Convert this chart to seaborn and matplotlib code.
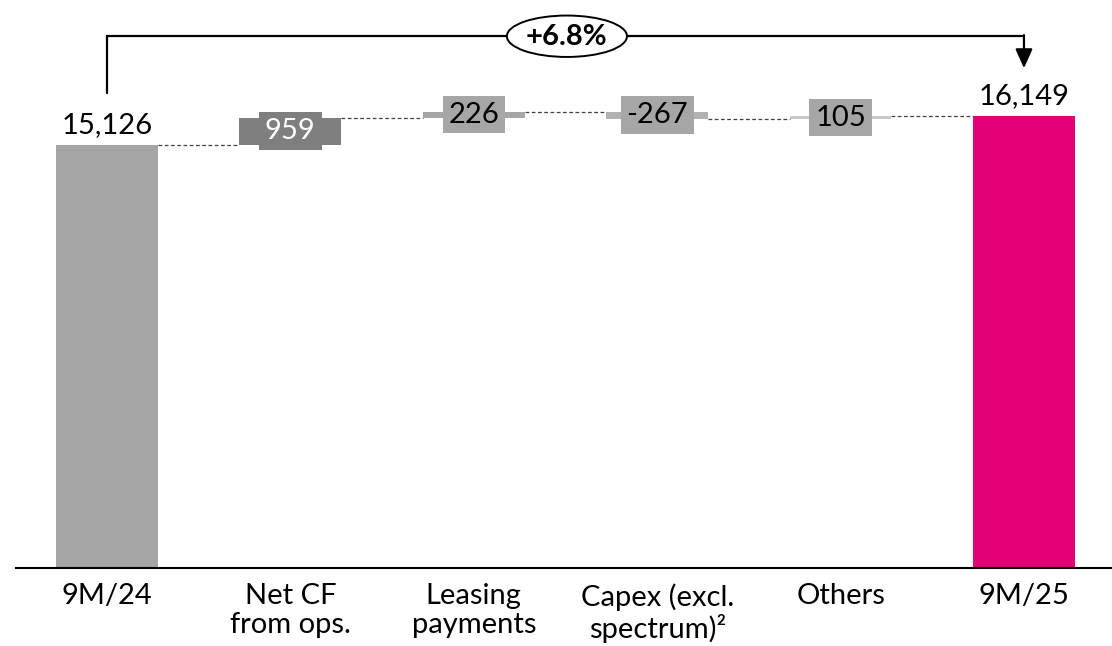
import numpy as np
import matplotlib
matplotlib.use("Agg")
import matplotlib.pyplot as plt
from matplotlib.patches import Ellipse
import seaborn as sns

# ================================================================
categories = ["9M/24", "Net CF\nfrom ops.", "Leasing\npayments",
              "Capex (excl.\nspectrum)²", "Others", "9M/25"]
start_total = 15126
deltas = [959, 226, -267, 105]
end_total = 16149
value_labels = ["15,126", "959", "226", "-267", "105", "16,149"]
growth_label = "+6.8%"
# ================================================================

bar_colors = ["#a5a5a5", "#7f7f7f", "#a6a6a6", "#b2b2b2", "#c8c8c8", "#e20074"]
box_colors = ["#7f7f7f", "#a6a6a6", "#a6a6a6", "#a6a6a6"]
box_text = ["white", "black", "black", "black"]
BAR_W = 0.555

# Running levels: 15126 -> ... -> 16149
levels = start_total + np.cumsum([0] + deltas)
bottoms = [0] + list(np.minimum(levels[:-1], levels[1:])) + [0]
heights = [start_total] + list(np.abs(deltas)) + [end_total]

sns.set_theme(style="white")
plt.rcParams["font.family"] = ["Lato", "DejaVu Sans"]

fig = plt.figure(figsize=(11.12, 6.46), dpi=100)
ax = fig.add_axes([16 / 1112, 78 / 646, 1 - 16 / 1112, 1 - 78 / 646])

sns.barplot(x=categories, y=heights, bottom=bottoms, width=BAR_W, color="#a5a5a5",
            saturation=1, ax=ax)
for patch, c in zip(ax.patches, bar_colors):
    patch.set_facecolor(c)
    patch.set_edgecolor("none")

# Dashed connectors between bars.
for i, lvl in enumerate(levels):
    ax.plot([i + BAR_W / 2, i + 1 - BAR_W / 2], [lvl, lvl], color="#404040",
            lw=0.9, ls=(0, (3, 2)), zorder=1)

# Totals labels.
for i, val in [(0, start_total), (5, end_total)]:
    ax.annotate(value_labels[i], xy=(i, val), xytext=(0, 5), textcoords="offset points",
                ha="center", va="bottom", fontsize=21, color="black")

# Boxed delta labels.
for k, d in enumerate(deltas):
    mid = (levels[k] + levels[k + 1]) / 2
    ax.text(k + 1, mid, value_labels[k + 1], ha="center", va="center", fontsize=21,
            color=box_text[k], zorder=5,
            bbox=dict(boxstyle="square,pad=0.2", fc=box_colors[k], ec="none"))

# Growth bracket.
y_br = 19000
ax.plot([0, 0, 5], [16970, y_br, y_br], color="black", lw=1.6, solid_joinstyle="miter", zorder=3)
ax.annotate("", xy=(5, 17860), xytext=(5, y_br + 40),
            arrowprops=dict(arrowstyle="-|>,head_length=0.58,head_width=0.26",
                            mutation_scale=20, color="black", lw=1.6, shrinkA=0, shrinkB=0))
ax.add_patch(Ellipse((2.508, y_br), width=0.655, height=1480, fc="white", ec="black",
                     lw=1.4, zorder=4))
ax.text(2.508, y_br - 30, growth_label, ha="center", va="center", fontsize=21,
        fontweight="bold", color="black", zorder=5)

# Axes styling.
ax.set_xlim(-0.496, 5.48)
ax.set_ylim(0, 20295)
ax.set_yticks([])
ax.set_xlabel("")
ax.set_ylabel("")
for s in ["top", "left", "right"]:
    ax.spines[s].set_visible(False)
ax.spines["bottom"].set_color("black")
ax.spines["bottom"].set_linewidth(1.5)
ax.tick_params(axis="x", length=0, pad=11, labelsize=21, labelcolor="black")
for lab in ax.get_xticklabels():
    lab.set_linespacing(1.15)

plt.savefig("out.png", dpi=100)
